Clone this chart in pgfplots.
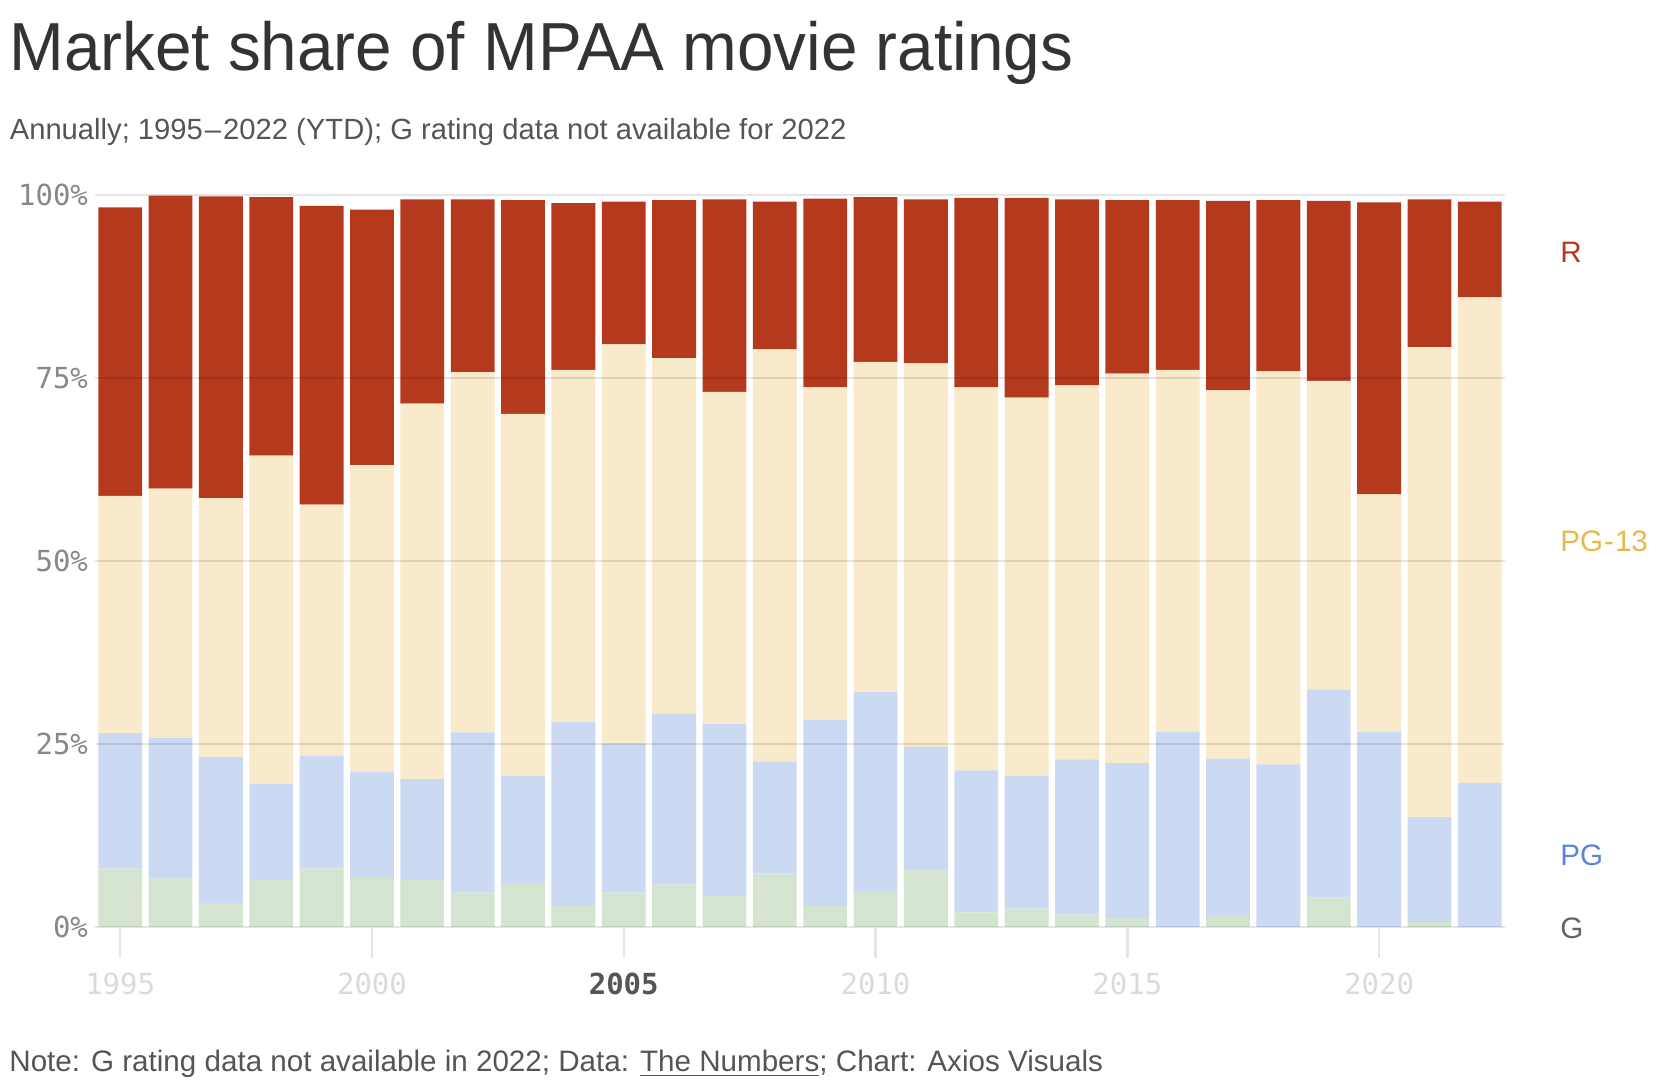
\documentclass[border=0pt]{standalone}
\usepackage{pgfplots}
\pgfplotsset{compat=1.18}
\usepackage{pgfplotstable}
\usepackage{fontspec}
\setmainfont{Liberation Sans}
\setmonofont{DejaVu Sans Mono}
\newfontfamily\titlefont[FakeStretch=0.965]{Liberation Sans}
\definecolor{colR}{RGB}{181,57,29}
\definecolor{colPGt}{RGB}{248,234,203}
\definecolor{colPG}{RGB}{204,217,242}
\definecolor{colG}{RGB}{212,228,209}
\definecolor{labPGt}{RGB}{232,184,74}
\definecolor{labPG}{RGB}{90,134,214}
\definecolor{labG}{RGB}{100,100,100}
\definecolor{titlec}{RGB}{51,51,51}
\definecolor{subc}{RGB}{85,85,85}
\definecolor{ytc}{RGB}{136,136,136}
\definecolor{xtc}{RGB}{218,218,218}
\pgfplotstableread{
year G PG PGt R
1995 8.0 18.5 32.4 39.4
1996 6.6 19.2 34.1 40.0
1997 3.3 19.9 35.4 41.2
1998 6.4 13.2 44.8 35.3
1999 8.0 15.4 34.3 40.8
2000 6.8 14.4 41.9 34.9
2001 6.4 13.8 51.3 27.9
2002 4.7 21.9 49.2 23.6
2003 6.0 14.6 49.5 29.2
2004 2.9 25.1 48.1 22.8
2005 4.7 20.4 54.5 19.5
2006 5.8 23.3 48.6 21.6
2007 4.2 23.5 45.4 26.3
2008 7.3 15.3 56.3 20.2
2009 2.9 25.4 45.4 25.8
2010 4.8 27.3 45.1 22.5
2011 7.7 16.9 52.4 22.4
2012 2.0 19.4 52.3 25.9
2013 2.5 18.1 51.7 27.3
2014 1.7 21.2 51.1 25.4
2015 1.2 21.2 53.2 23.7
2016 0.0 26.7 49.4 23.2
2017 1.5 21.5 50.3 25.9
2018 0.0 22.2 53.7 23.4
2019 4.0 28.4 42.2 24.6
2020 0.0 26.7 32.4 39.9
2021 0.7 14.3 64.2 20.2
2022 0.0 19.7 66.3 13.1
}\ratings
\begin{document}
\begin{tikzpicture}
\path[use as bounding box] (0,0) rectangle (831pt,545pt);
\begin{axis}[
  at={(47.5pt,81.5pt)}, anchor=south west,
  scale only axis, width=705pt, height=366pt,
  xmin=1994.5, xmax=2022.5, ymin=0, ymax=100,
  ybar stacked, bar width=0.87,
  axis on top,
  axis line style={draw=none},
  ymajorgrids,
  grid style={black, opacity=0.1, line width=1.2pt},
  xtick={1995,2000,2005,2010,2015,2020},
  xticklabels={1995,2000,{\bfseries\color{subc}2005},2010,2015,2020},
  ytick={0,25,50,75,100},
  yticklabels={0\%,25\%,50\%,75\%,100\%},
  xtick pos=bottom, ytick pos=left,
  tick align=outside, major tick length=15.5pt,
  xtick style={draw=black!10, line width=1.2pt},
  ytick style={draw=none},
  xticklabel style={font=\fontsize{14.5}{17}\selectfont\ttfamily, text=xtc, yshift=-4pt},
  yticklabel style={font=\fontsize{14.5}{17}\selectfont\ttfamily, text=ytc, xshift=15.5pt},
  clip=false,
]
\addplot[fill=colG, draw=none] table[x=year,y=G]{\ratings};
\addplot[fill=colPG, draw=none] table[x=year,y=PG]{\ratings};
\addplot[fill=colPGt, draw=none] table[x=year,y=PGt]{\ratings};
\addplot[fill=colR, draw=none] table[x=year,y=R]{\ratings};
\end{axis}
\node[anchor=base west, inner sep=0, text=titlec, font=\titlefont\fontsize{34}{40}\selectfont] at (4.5pt,509.6pt) {Market share of MPAA movie ratings};
\node[anchor=base west, inner sep=0, text=subc, font=\fontsize{14.6}{18}\selectfont] at (4.7pt,475pt) {Annually; 1995\kern1pt–\kern1pt2022 (YTD); G rating data not available for 2022};
\node[anchor=base west, inner sep=0, text=subc, font=\fontsize{14.8}{18}\selectfont] at (4.5pt,9pt) {Note: G rating data not available in 2022; Data: \underline{The Numbers}; Chart: Axios Visuals};
\node[anchor=west, inner sep=0, text=colR, font=\fontsize{14.8}{18}\selectfont] at (780pt,419pt) {R};
\node[anchor=west, inner sep=0, text=labPGt, font=\fontsize{14.8}{18}\selectfont] at (780pt,274.5pt) {PG\kern0.5pt-\kern0.5pt13};
\node[anchor=west, inner sep=0, text=labPG, font=\fontsize{14.8}{18}\selectfont] at (780pt,117.5pt) {PG};
\node[anchor=west, inner sep=0, text=labG, font=\fontsize{14.8}{18}\selectfont] at (780pt,81pt) {G};
\end{tikzpicture}
\end{document}
